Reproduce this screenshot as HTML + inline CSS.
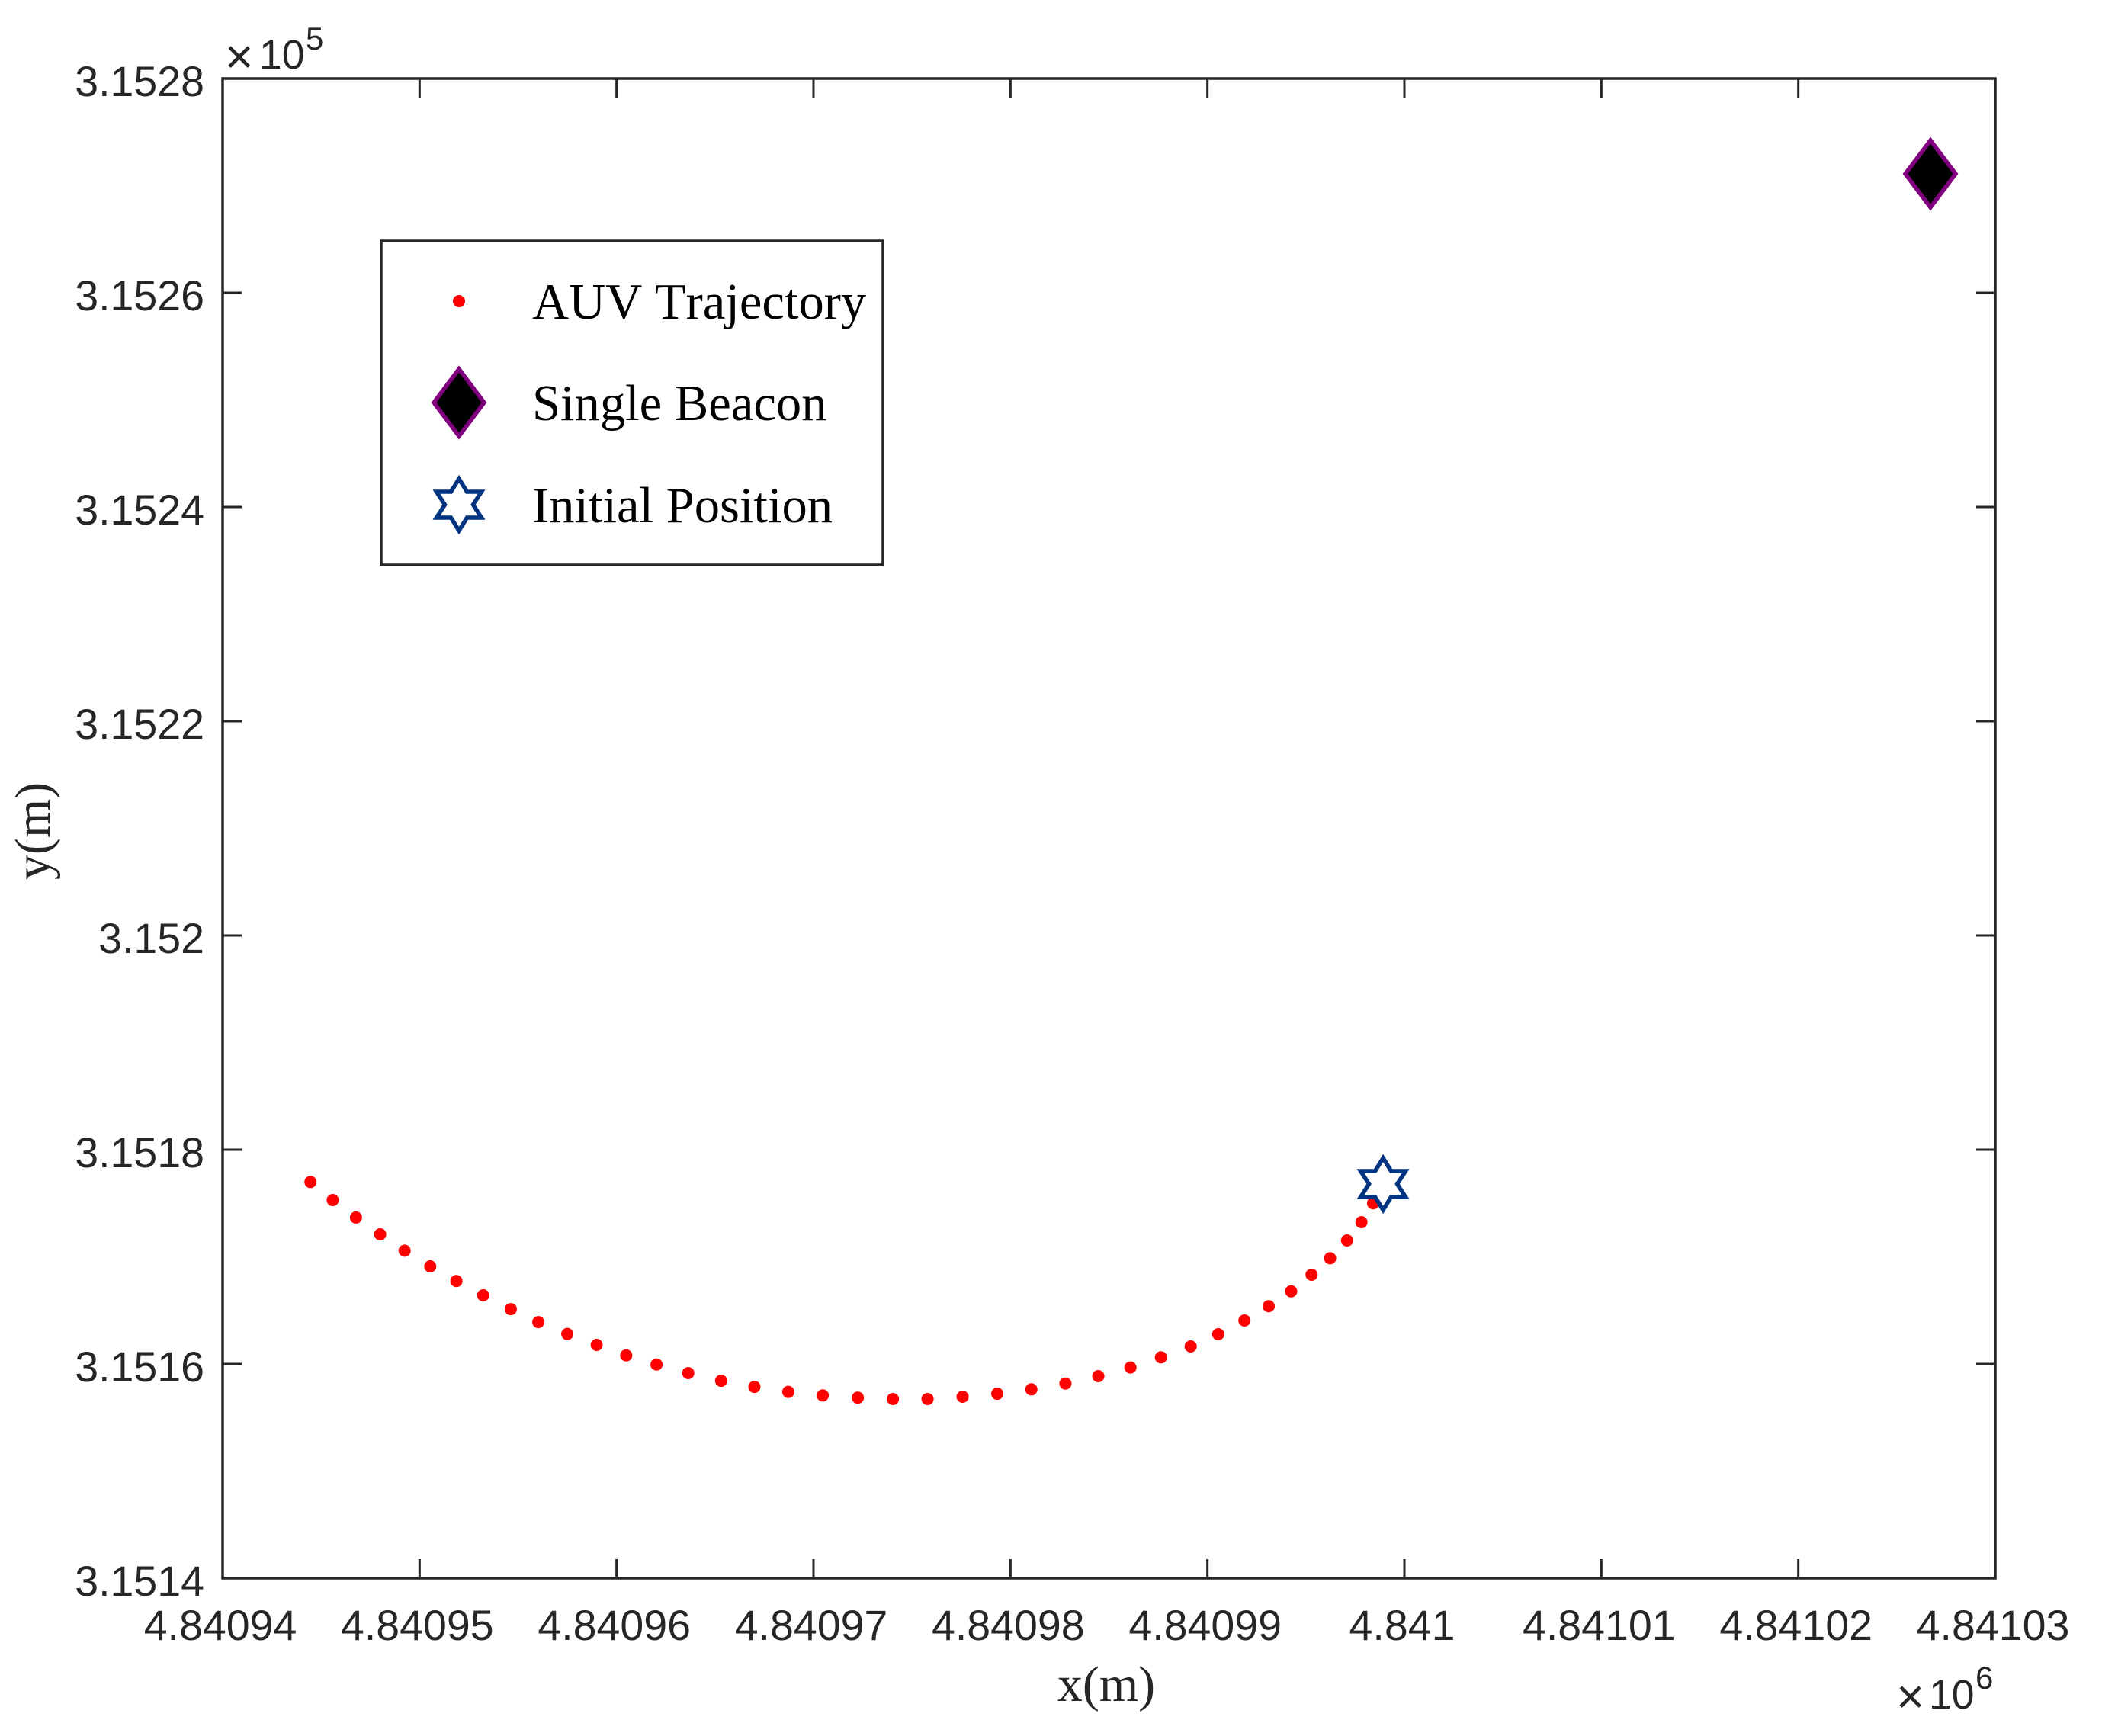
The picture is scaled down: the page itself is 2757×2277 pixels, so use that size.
<!DOCTYPE html>
<html lang="en">
<head>
<meta charset="utf-8">
<title>AUV Trajectory Chart</title>
<style>
  html, body { margin: 0; padding: 0; background: #ffffff; }
  svg { display: block; }
  .tick-label { font-family: "Liberation Sans", Arial, sans-serif; font-size: 55.5px; fill: #262626; }
  .mult { font-family: "Liberation Sans", Arial, sans-serif; font-size: 53.5px; fill: #262626; }
  .mult-x { font-family: "Liberation Sans", Arial, sans-serif; font-size: 64px; fill: #262626; }
  .axis-title { font-family: "Liberation Serif", "Times New Roman", serif; font-size: 66px; fill: #262626; }
  .legend-text { font-family: "Liberation Serif", "Times New Roman", serif; font-size: 66.6px; fill: #000000; font-kerning: none; }
  .exp { font-family: "Liberation Sans", Arial, sans-serif; font-size: 42px; fill: #262626; }
</style>
</head>
<body>
<svg id="chart" xmlns="http://www.w3.org/2000/svg" width="2757" height="2277" viewBox="0 0 2757 2277">
  <rect x="0" y="0" width="2757" height="2277" fill="#ffffff"/>
  <g id="ticks"></g>
  <g id="x-labels"></g>
  <g id="y-labels"></g>
  <g id="marks"></g>
  <rect x="292" y="103" width="2325" height="1967" fill="none" stroke="#262626" stroke-width="3.5"/>

  <text class="mult-x" x="295" y="96">×</text>
  <text class="mult" x="340" y="90">10</text>
  <text class="exp" x="401" y="65">5</text>

  <text class="mult-x" x="2487" y="2247">×</text>
  <text class="mult" x="2530" y="2241">10</text>
  <text class="exp" x="2591" y="2215">6</text>

  <text class="axis-title" x="1451" y="2231" text-anchor="middle">x(m)</text>
  <text class="axis-title" transform="translate(65,1090) rotate(-90)" text-anchor="middle">y(m)</text>

  <g>
    <rect x="500" y="316" width="658" height="425" fill="#ffffff" stroke="#262626" stroke-width="3.5"/>
    <circle cx="602" cy="395" r="8" fill="#ff0000"/>
    <text class="legend-text" x="698" y="418">AUV Trajectory</text>
    <polygon points="602,484 635,528 602,572 569,528" fill="#000000" stroke="#800080" stroke-width="5.5"/>
    <text class="legend-text" x="698" y="551">Single Beacon</text>
    <polygon points="602,628 612.5,645 631.5,645 620.5,662 631.5,679 612.5,679 602,696 591.5,679 572.5,679 583.5,662 572.5,645 591.5,645" fill="none" stroke="#003380" stroke-width="5.5"/>
    <text class="legend-text" x="698" y="685">Initial Position</text>
  </g>
</svg>
<script>
// Chart data (metres)
const xTickValues = [4840940, 4840950, 4840960, 4840970, 4840980, 4840990, 4841000, 4841010, 4841020, 4841030];
const xTickLabels = ["4.84094", "4.84095", "4.84096", "4.84097", "4.84098", "4.84099", "4.841", "4.84101", "4.84102", "4.84103"];
const yTickValues = [315140, 315160, 315180, 315200, 315220, 315240, 315260, 315280];
const yTickLabels = ["3.1514", "3.1516", "3.1518", "3.152", "3.1522", "3.1524", "3.1526", "3.1528"];
const trajectoryX = [4840944.46, 4840945.59, 4840946.77, 4840948.00, 4840949.24, 4840950.54, 4840951.87, 4840953.23, 4840954.63, 4840956.03, 4840957.50, 4840958.99, 4840960.49, 4840962.03, 4840963.64, 4840965.31, 4840967.00, 4840968.72, 4840970.47, 4840972.25, 4840974.03, 4840975.79, 4840977.57, 4840979.33, 4840981.06, 4840982.79, 4840984.46, 4840986.09, 4840987.64, 4840989.15, 4840990.55, 4840991.88, 4840993.11, 4840994.25, 4840995.29, 4840996.23, 4840997.09, 4840997.82, 4840998.41];
const trajectoryY = [315176.99, 315175.30, 315173.67, 315172.10, 315170.58, 315169.11, 315167.74, 315166.41, 315165.12, 315163.91, 315162.80, 315161.78, 315160.80, 315159.95, 315159.15, 315158.43, 315157.86, 315157.39, 315157.06, 315156.85, 315156.73, 315156.73, 315156.94, 315157.22, 315157.63, 315158.17, 315158.86, 315159.67, 315160.62, 315161.64, 315162.78, 315164.06, 315165.39, 315166.78, 315168.33, 315169.87, 315171.53, 315173.24, 315175.00];
const beaconPosition = [4841026.71, 315271.10];
const initialPosition = [4840998.92, 315176.80];

const NS = 'http://www.w3.org/2000/svg';
const plotLeft = 292, plotRight = 2617, plotTop = 103, plotBottom = 2070;
const xMin = xTickValues[0], xMax = xTickValues[xTickValues.length - 1];
const yMin = yTickValues[0], yMax = yTickValues[yTickValues.length - 1];
function xScale(v) { return plotLeft + (v - xMin) / (xMax - xMin) * (plotRight - plotLeft); }
function yScale(v) { return plotBottom - (v - yMin) / (yMax - yMin) * (plotBottom - plotTop); }

function make(tag, attrs) {
  const el = document.createElementNS(NS, tag);
  for (const k in attrs) el.setAttribute(k, attrs[k]);
  return el;
}
function pointsAround(cx, cy, offsets) {
  return offsets.map(function (p) { return (cx + p[0]) + ',' + (cy + p[1]); }).join(' ');
}

const ticksG = document.getElementById('ticks');
const xLabelsG = document.getElementById('x-labels');
const yLabelsG = document.getElementById('y-labels');
const marksG = document.getElementById('marks');
const tickStyle = { stroke: '#262626', 'stroke-width': 3 };

xTickValues.forEach(function (v, i) {
  const x = xScale(v);
  const low = make('line', Object.assign({ x1: x, x2: x, y1: plotBottom, y2: plotBottom - 25 }, tickStyle));
  
  
  ticksG.appendChild(low);
  const high = make('line', Object.assign({ x1: x, x2: x, y1: plotTop, y2: plotTop + 25 }, tickStyle));
  
  
  ticksG.appendChild(high);
  const label = make('text', { x: x - 3, y: 2151, 'text-anchor': 'middle', 'class': 'tick-label' });
  
  
  label.textContent = xTickLabels[i];
  xLabelsG.appendChild(label);
});

yTickValues.forEach(function (v, i) {
  const y = yScale(v);
  const left = make('line', Object.assign({ x1: plotLeft, x2: plotLeft + 25, y1: y, y2: y }, tickStyle));
  
  
  ticksG.appendChild(left);
  const right = make('line', Object.assign({ x1: plotRight, x2: plotRight - 25, y1: y, y2: y }, tickStyle));
  
  
  ticksG.appendChild(right);
  const label = make('text', { x: 268, y: y + 23, 'text-anchor': 'end', 'class': 'tick-label' });
  
  
  label.textContent = yTickLabels[i];
  yLabelsG.appendChild(label);
});

trajectoryX.forEach(function (xv, i) {
  const dot = make('circle', { cx: xScale(xv), cy: yScale(trajectoryY[i]), r: 8, fill: '#ff0000' });
  
  
  marksG.appendChild(dot);
});

const diamondShape = [[0, -44], [33, 0], [0, 44], [-33, 0]];
const beacon = make('polygon', {
  points: pointsAround(xScale(beaconPosition[0]), yScale(beaconPosition[1]), diamondShape),
  fill: '#000000', stroke: '#800080', 'stroke-width': 5.5
});


marksG.appendChild(beacon);

const starShape = [[0, -34], [10.5, -17], [29.5, -17], [18.5, 0], [29.5, 17], [10.5, 17], [0, 34], [-10.5, 17], [-29.5, 17], [-18.5, 0], [-29.5, -17], [-10.5, -17]];
const star = make('polygon', {
  points: pointsAround(xScale(initialPosition[0]), yScale(initialPosition[1]), starShape),
  fill: 'none', stroke: '#003380', 'stroke-width': 5.5
});


marksG.appendChild(star);
</script>
</body>
</html>
